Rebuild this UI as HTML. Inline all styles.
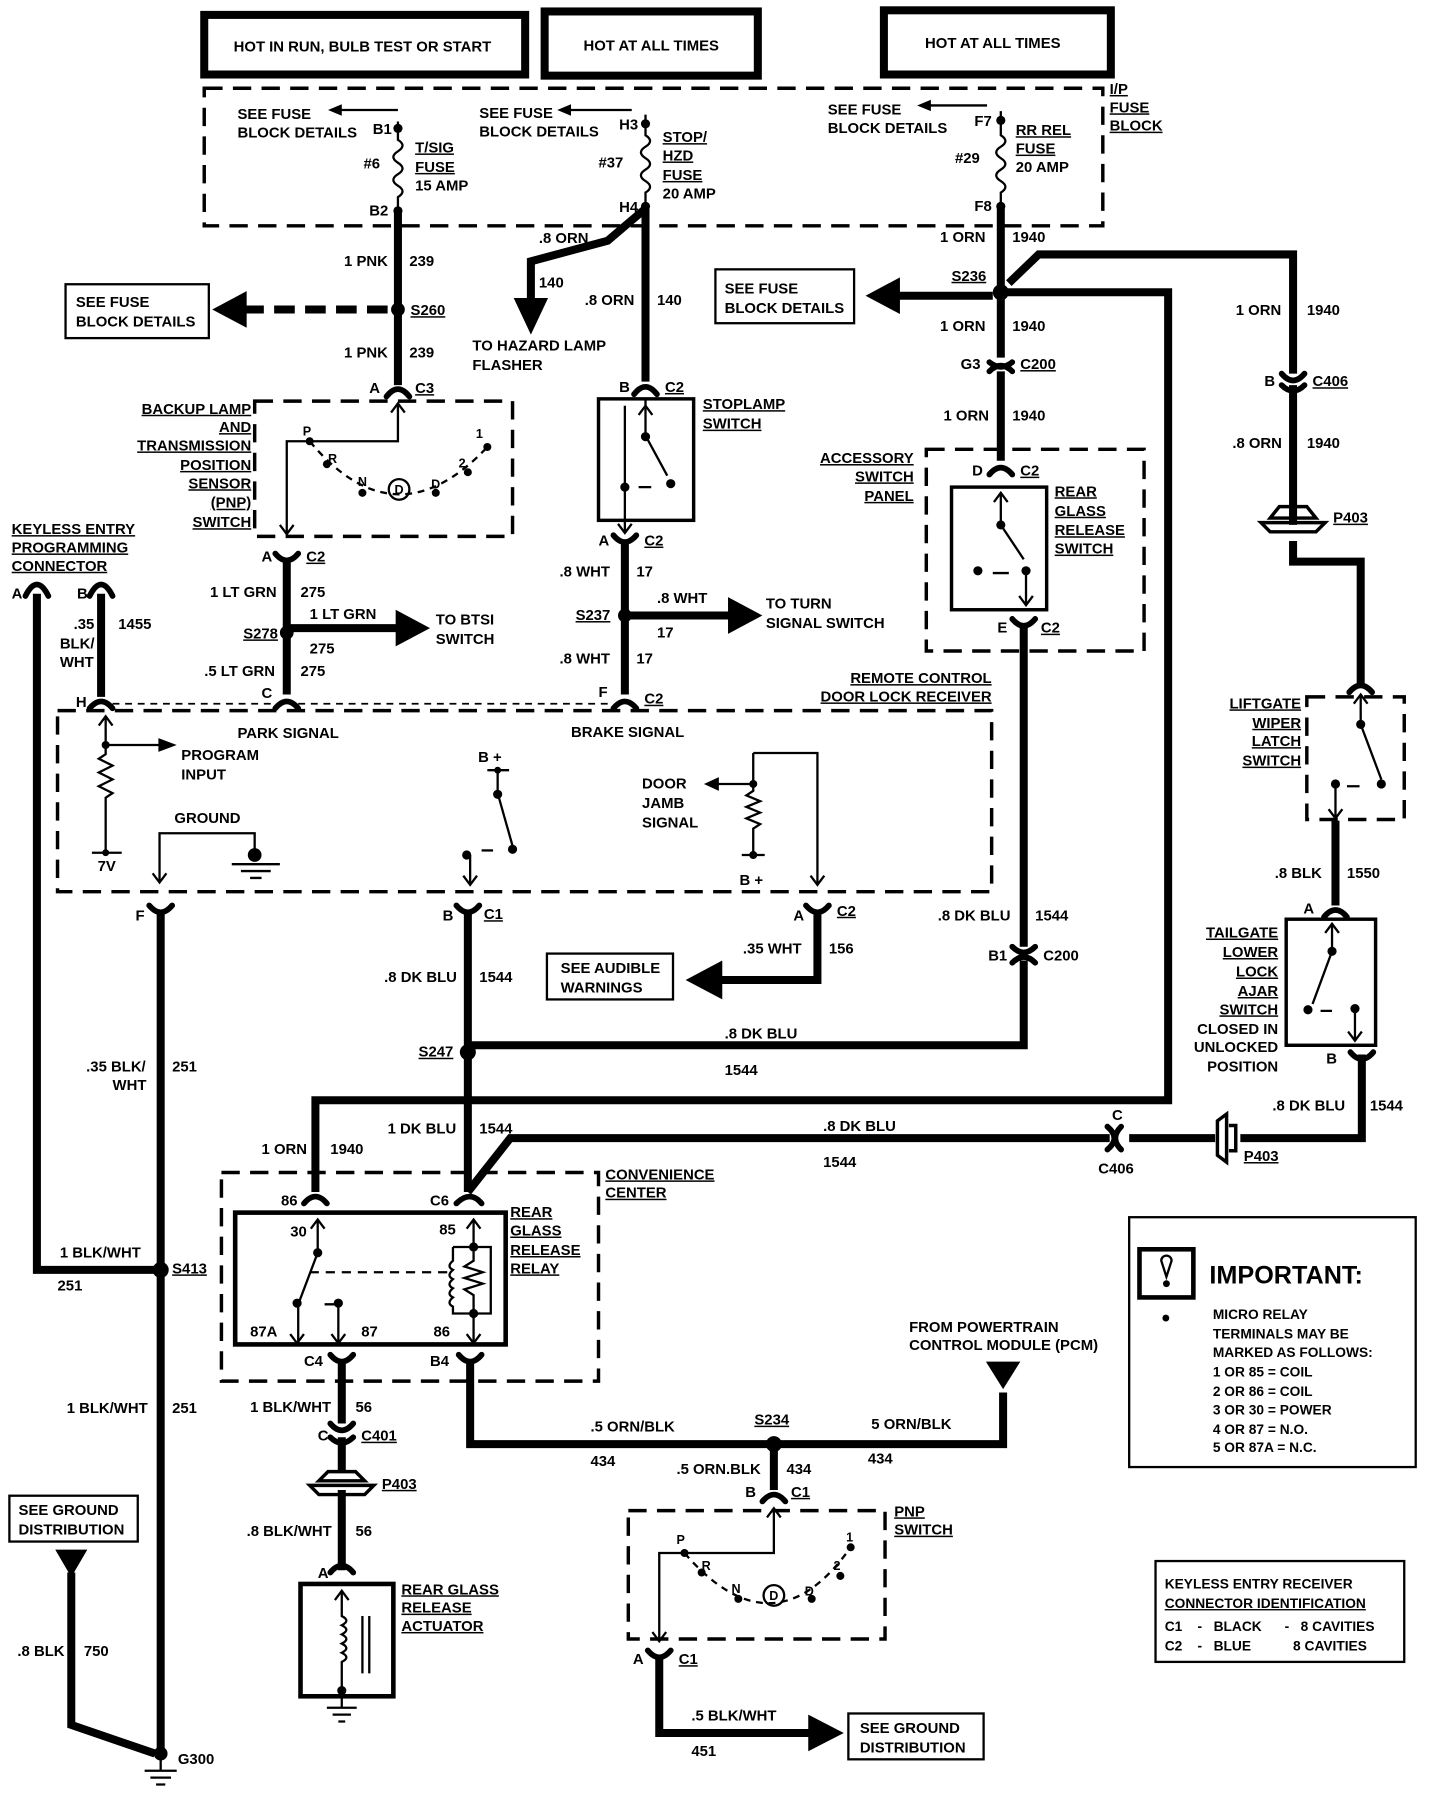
<!DOCTYPE html>
<html><head><meta charset="utf-8"><style>
html,body{margin:0;padding:0;background:#fff;}
svg{display:block;}
text{font-family:"Liberation Sans",sans-serif;font-weight:bold;font-size:13px;fill:#000;}
.u{text-decoration:underline;}
.s11{font-size:11px;}
.s12{font-size:12px;}
.s22{font-size:22px;}
.w{stroke:#000;stroke-width:7;fill:none;}
.t{stroke:#000;stroke-width:2;fill:none;}
.d{stroke:#000;stroke-width:3;fill:none;stroke-dasharray:16 9;}
.c{stroke:#000;stroke-width:5;fill:none;stroke-linecap:round;}
</style></head><body>
<svg width="1440" height="1796" viewBox="0 0 1256 1567" xmlns="http://www.w3.org/2000/svg">
<!-- header boxes -->
<rect x="178" y="13" width="280" height="52" fill="none" stroke="#000" stroke-width="7"/>
<text x="316" y="45" text-anchor="middle">HOT IN RUN, BULB TEST OR START</text>
<rect x="475" y="10" width="186" height="56" fill="none" stroke="#000" stroke-width="7"/>
<text x="568" y="44" text-anchor="middle">HOT AT ALL TIMES</text>
<rect x="771" y="9" width="198" height="56" fill="none" stroke="#000" stroke-width="7"/>
<text x="866" y="42" text-anchor="middle">HOT AT ALL TIMES</text>
<!-- fuse block -->
<rect x="178" y="77" width="784" height="120" class="d"/>
<text x="968" y="82" class="u">I/P</text><text x="968" y="98" class="u">FUSE</text><text x="968" y="114" class="u">BLOCK</text>
<!-- fuse 1 -->
<path class="t" d="M347,106 V122 q8,5 0,10 q-8,5 0,10 q8,5 0,10 q-8,5 0,10 q8,5 0,10 V184"/>
<circle cx="347" cy="112" r="4"/><circle cx="347" cy="184" r="4"/>
<path class="t" d="M347,96 H292"/><polygon points="286,96 298,91 298,101"/>
<text x="207" y="104">SEE FUSE</text><text x="207" y="120">BLOCK DETAILS</text>
<text x="325" y="117">B1</text><text x="317" y="147">#6</text><text x="322" y="188">B2</text>
<text x="362" y="133" class="u">T/SIG</text><text x="362" y="150" class="u">FUSE</text><text x="362" y="166">15 AMP</text>
<!-- fuse 2 -->
<path class="t" d="M563,100 V118 q8,5 0,10 q-8,5 0,10 q8,5 0,10 q-8,5 0,10 q8,5 0,10 V180"/>
<circle cx="563" cy="108" r="4"/><circle cx="563" cy="180" r="4"/>
<path class="t" d="M551,96 H492"/><polygon points="486,96 498,91 498,101"/>
<text x="418" y="103">SEE FUSE</text><text x="418" y="119">BLOCK DETAILS</text>
<text x="540" y="113">H3</text><text x="522" y="146">#37</text><text x="540" y="185">H4</text>
<text x="578" y="124" class="u">STOP/</text><text x="578" y="140" class="u">HZD</text><text x="578" y="157" class="u">FUSE</text><text x="578" y="173">20 AMP</text>
<!-- fuse 3 -->
<path class="t" d="M873,97 V118 q8,5 0,10 q-8,5 0,10 q8,5 0,10 q-8,5 0,10 q8,5 0,10 V180"/>
<circle cx="873" cy="105" r="4"/><circle cx="873" cy="180" r="4"/>
<path class="t" d="M861,92 H806"/><polygon points="800,92 812,87 812,97"/>
<text x="722" y="100">SEE FUSE</text><text x="722" y="116">BLOCK DETAILS</text>
<text x="850" y="110">F7</text><text x="833" y="142">#29</text><text x="850" y="184">F8</text>
<text x="886" y="118" class="u">RR REL</text><text x="886" y="134" class="u">FUSE</text><text x="886" y="150">20 AMP</text>
<!-- wire 1 -->
<path class="w" d="M347,184 V336"/>
<text x="300" y="232">1 PNK</text><text x="357" y="232">239</text>
<text x="300" y="312">1 PNK</text><text x="357" y="312">239</text>
<circle cx="347" cy="270" r="6"/><text x="358" y="275" class="u">S260</text>
<path d="M338,270 H212" stroke="#000" stroke-width="7" stroke-dasharray="18 9"/>
<polygon points="185,270 215,254 215,286"/>
<rect x="57" y="248" width="125" height="47" fill="none" stroke="#000" stroke-width="2"/>
<text x="66" y="268">SEE FUSE</text><text x="66" y="285">BLOCK DETAILS</text>
<path class="c" d="M337,346 Q347,333 357,346"/>
<text x="322" y="343">A</text><text x="362" y="343" class="u">C3</text>
<!-- top PNP -->
<rect x="222" y="350" width="225" height="118" class="d"/>
<g text-anchor="end"><text x="219" y="361" class="u">BACKUP LAMP</text><text x="219" y="377" class="u">AND</text><text x="219" y="393" class="u">TRANSMISSION</text><text x="219" y="410" class="u">POSITION</text><text x="219" y="426" class="u">SENSOR</text><text x="219" y="443" class="u">(PNP)</text><text x="219" y="460" class="u">SWITCH</text></g>
<path class="t" d="M347,352 V385 H250 V466"/><path class="t" d="M341,360 L347,352 L353,360"/><path class="t" d="M244,458 L250,466 L256,458"/>
<path d="M270,385 Q345,475 425,390" fill="none" stroke="#000" stroke-width="2" stroke-dasharray="6 5"/>
<circle cx="270" cy="385" r="3.5"/><circle cx="285" cy="405" r="3.5"/><circle cx="316" cy="430" r="3.5"/><circle cx="380" cy="430" r="3.5"/><circle cx="408" cy="412" r="3.5"/><circle cx="425" cy="390" r="3.5"/>
<circle cx="348" cy="427" r="9" fill="none" stroke="#000" stroke-width="2"/><text x="344" y="431" class="s11">D</text>
<text x="264" y="380" class="s11">P</text><text x="286" y="404" class="s11">R</text><text x="312" y="424" class="s11">N</text><text x="376" y="426" class="s11">D</text><text x="400" y="408" class="s11">2</text><text x="415" y="382" class="s11">1</text>
<path class="c" d="M240,483 Q250,495 260,483"/>
<text x="228" y="490">A</text><text x="267" y="490" class="u">C2</text>
<path class="w" d="M250,488 V606"/>
<text x="183" y="521">1 LT GRN</text><text x="262" y="521">275</text>
<circle cx="250" cy="552" r="6"/><text x="212" y="557" class="u">S278</text>
<path class="w" d="M250,548 H348"/><polygon points="375,548 345,532 345,564"/>
<text x="270" y="540">1 LT GRN</text><text x="270" y="570">275</text>
<text x="380" y="545">TO BTSI</text><text x="380" y="562">SWITCH</text>
<text x="178" y="590">.5 LT GRN</text><text x="262" y="590">275</text>
<path class="c" d="M240,618 Q250,606 260,618"/><text x="228" y="609">C</text>
<!-- keyless prog connector -->
<text x="10" y="466" class="u">KEYLESS ENTRY</text><text x="10" y="482" class="u">PROGRAMMING</text><text x="10" y="498" class="u">CONNECTOR</text>
<path class="w" d="M32,518 V1108 H140"/><path class="c" d="M22,520 Q32,500 42,520"/>
<path class="w" d="M88,518 V608"/><path class="c" d="M78,520 Q88,500 98,520"/>
<path class="c" d="M78,618 Q88,606 98,618"/>
<text x="10" y="522">A</text><text x="67" y="522">B</text>
<text x="64" y="549">.35</text><text x="103" y="549">1455</text><text x="52" y="566">BLK/</text><text x="52" y="582">WHT</text><text x="66" y="617">H</text>
<path d="M98,614 H240 M260,614 H535" stroke="#000" stroke-width="1.5" stroke-dasharray="6 5"/>
<!-- remote receiver -->
<rect x="50" y="620" width="815" height="158" class="d"/>
<text x="865" y="596" text-anchor="end" class="u">REMOTE CONTROL</text><text x="865" y="612" text-anchor="end" class="u">DOOR LOCK RECEIVER</text>
<text x="207" y="644">PARK SIGNAL</text><text x="498" y="643">BRAKE SIGNAL</text>
<path class="t" d="M92,625 V658 l-6,4 l12,6 l-12,6 l12,6 l-12,6 l12,6 l-6,4 V746"/><path class="t" d="M86,633 L92,625 L98,633"/>
<path class="t" d="M80,744 H106"/><circle cx="92" cy="744" r="3"/><text x="85" y="760">7V</text>
<circle cx="92" cy="650" r="3.5"/><path class="t" d="M92,650 H140"/><polygon points="154,650 138,644 138,656"/>
<text x="158" y="663">PROGRAM</text><text x="158" y="680">INPUT</text>
<text x="152" y="718">GROUND</text>
<path class="t" d="M139,770 V727 H222 V745"/><path class="t" d="M133,762 L139,770 L145,762"/>
<circle cx="222" cy="746" r="6"/><path class="t" d="M202,754 H244 M210,760 H236 M218,766 H228"/>
<text x="417" y="665">B +</text><path class="t" d="M410,772 V746 M425,672 H444 M434,672 V692 L447,738"/><circle cx="434" cy="672" r="3"/><circle cx="434" cy="693" r="4"/><circle cx="447" cy="741" r="4"/><circle cx="407" cy="746" r="4"/><path class="t" d="M420,742 H430"/>
<path class="t" d="M404,764 L410,772 L416,764"/>
<text x="560" y="688">DOOR</text><text x="560" y="705">JAMB</text><text x="560" y="722">SIGNAL</text>
<path class="t" d="M657,657 H713 V772 M657,657 V690 l-6,4 l12,5 l-12,5 l12,5 l-12,5 l12,5 l-6,4 V746 M647,746 H667"/><path class="t" d="M707,764 L713,772 L719,764"/>
<circle cx="657" cy="684" r="3.5"/><circle cx="657" cy="746" r="3.5"/><path class="t" d="M657,684 H625"/><polygon points="614,684 627,678 627,690"/>
<text x="645" y="772">B +</text>
<!-- bottom receiver connectors -->
<path class="c" d="M130,790 Q140,802 150,790"/><text x="118" y="803">F</text>
<path class="c" d="M398,790 Q408,802 418,790"/><text x="386" y="803">B</text><text x="422" y="802" class="u">C1</text>
<path class="c" d="M703,790 Q713,802 723,790"/><text x="692" y="803">A</text><text x="730" y="799" class="u">C2</text>
<path class="w" d="M140,796 V1530"/>
<path class="w" d="M408,796 V1040"/>
<path class="w" d="M713,797 V855 H628"/><polygon points="598,855 630,838 630,872"/>
<rect x="477" y="832" width="110" height="40" fill="none" stroke="#000" stroke-width="2"/>
<text x="489" y="849">SEE AUDIBLE</text><text x="489" y="866">WARNINGS</text>
<text x="648" y="832">.35 WHT</text><text x="723" y="832">156</text>
<text x="335" y="857">.8 DK BLU</text><text x="418" y="857">1544</text>
<!-- stoplamp -->
<path class="w" d="M563,180 V333"/>
<path class="w" d="M563,182 L530,210 L463,228 V262"/><polygon points="463,292 448,260 478,260"/>
<text x="470" y="212">.8 ORN</text><text x="470" y="251">140</text>
<text x="510" y="266">.8 ORN</text><text x="573" y="266">140</text>
<text x="412" y="306">TO HAZARD LAMP</text><text x="412" y="323">FLASHER</text>
<path class="c" d="M553,344 Q563,331 573,344"/><text x="540" y="342">B</text><text x="580" y="342" class="u">C2</text>
<rect x="522" y="348" width="83" height="106" fill="none" stroke="#000" stroke-width="3"/>
<text x="613" y="357" class="u">STOPLAMP</text><text x="613" y="374" class="u">SWITCH</text>
<path class="t" d="M545,354 V465 M563,348 V380 L582,415"/><path class="t" d="M557,362 L563,354 L569,362"/><circle cx="563" cy="381" r="4"/><circle cx="585" cy="422" r="4"/><circle cx="545" cy="425" r="4"/><path class="t" d="M557,425 H568 M539,457 L545,465 L551,457"/>
<path class="c" d="M535,467 Q545,479 555,467"/><text x="522" y="476">A</text><text x="562" y="476" class="u">C2</text>
<path class="w" d="M545,472 V606"/>
<text x="488" y="503">.8 WHT</text><text x="555" y="503">17</text>
<circle cx="545" cy="537" r="6"/><text x="502" y="541" class="u">S237</text>
<path class="w" d="M545,537 H638"/><polygon points="665,537 635,521 635,553"/>
<text x="573" y="526">.8 WHT</text><text x="573" y="556">17</text>
<text x="668" y="531">TO TURN</text><text x="668" y="548">SIGNAL SWITCH</text>
<text x="488" y="579">.8 WHT</text><text x="555" y="579">17</text>
<path class="c" d="M535,618 Q545,606 555,618"/><text x="522" y="608">F</text><text x="562" y="614" class="u">C2</text>
<!-- accessory -->
<path class="w" d="M873,180 V312 M873,324 V402"/>
<path class="w" d="M880,247 L906,222 H1128 V326 M1128,336 V458 M1128,472 V490 H1187 V598"/>
<path class="w" d="M879,255 H1019 V960 H275 V1040"/>
<circle cx="873" cy="255" r="7"/><text x="830" y="245" class="u">S236</text>
<path class="w" d="M866,258 H782"/><polygon points="755,258 785,242 785,274"/>
<rect x="624" y="235" width="121" height="47" fill="none" stroke="#000" stroke-width="2"/>
<text x="632" y="256">SEE FUSE</text><text x="632" y="273">BLOCK DETAILS</text>
<text x="820" y="211">1 ORN</text><text x="883" y="211">1940</text>
<text x="820" y="289">1 ORN</text><text x="883" y="289">1940</text>
<path class="c" d="M863,316 Q873,324 883,316 M863,324 Q873,314 883,324"/><text x="838" y="322">G3</text><text x="890" y="322" class="u">C200</text>
<text x="823" y="367">1 ORN</text><text x="883" y="367">1940</text>
<rect x="808" y="392" width="190" height="176" class="d"/>
<text x="797" y="404" text-anchor="end" class="u">ACCESSORY</text><text x="797" y="420" text-anchor="end" class="u">SWITCH</text><text x="797" y="437" text-anchor="end" class="u">PANEL</text>
<path class="c" d="M863,414 Q873,402 883,414"/><text x="848" y="415">D</text><text x="890" y="415" class="u">C2</text>
<rect x="830" y="425" width="83" height="107" fill="none" stroke="#000" stroke-width="3"/>
<path class="t" d="M873,430 V458 L893,488 M895,500 V528 M867,438 L873,430 L879,438 M889,520 L895,528 L901,520 M866,500 H880"/><circle cx="873" cy="458" r="4"/><circle cx="853" cy="498" r="4"/><circle cx="895" cy="498" r="4"/>
<text x="920" y="433" class="u">REAR</text><text x="920" y="450" class="u">GLASS</text><text x="920" y="467" class="u">RELEASE</text><text x="920" y="483" class="u">SWITCH</text>
<path class="c" d="M883,540 Q893,552 903,540"/><text x="870" y="552">E</text><text x="908" y="552" class="u">C2</text>
<path class="w" d="M893,546 V826 M893,838 V912 H408"/>
<text x="818" y="803">.8 DK BLU</text><text x="903" y="803">1544</text>
<path class="c" d="M883,826 Q893,836 903,826 M883,840 Q893,830 903,840"/><text x="862" y="838">B1</text><text x="910" y="838">C200</text>
<circle cx="408" cy="918" r="7"/><text x="365" y="922" class="u">S247</text>
<text x="632" y="906">.8 DK BLU</text><text x="632" y="938">1544</text>
<text x="75" y="935">.35 BLK/</text><text x="150" y="935">251</text><text x="98" y="951">WHT</text>
<text x="228" y="1007">1 ORN</text><text x="288" y="1007">1940</text>
<text x="338" y="989">1 DK BLU</text><text x="418" y="989">1544</text>
<path class="w" d="M408,1040 L445,993 H968 M985,993 H1060 M1082,993 H1188 V920"/>
<path class="c" d="M966,983 Q978,993 966,1003 M978,983 Q968,993 978,1003"/>
<text x="970" y="977">C</text><text x="958" y="1024">C406</text>
<path d="M1062,978 L1070,972 V1014 L1062,1008 Z M1072,982 H1078 V1004 H1072" fill="none" stroke="#000" stroke-width="3"/>
<text x="1085" y="1013" class="u">P403</text>
<text x="718" y="987">.8 DK BLU</text><text x="718" y="1018">1544</text>
<!-- right column -->
<text x="1078" y="275">1 ORN</text><text x="1140" y="275">1940</text>
<path class="c" d="M1118,326 Q1128,338 1138,326 M1118,336 Q1128,346 1138,336"/><text x="1103" y="337">B</text><text x="1145" y="337" class="u">C406</text>
<text x="1075" y="391">.8 ORN</text><text x="1140" y="391">1940</text>
<path d="M1108,452 L1116,442 H1140 L1148,452 Z M1100,456 H1156 L1148,464 H1108 Z" fill="none" stroke="#000" stroke-width="3"/>
<text x="1163" y="456" class="u">P403</text>
<rect x="1140" y="608" width="85" height="107" class="d"/>
<g text-anchor="end"><text x="1135" y="618" class="u">LIFTGATE</text><text x="1135" y="635" class="u">WIPER</text><text x="1135" y="651" class="u">LATCH</text><text x="1135" y="668" class="u">SWITCH</text></g>
<path class="c" d="M1177,604 Q1187,592 1197,604"/>
<path class="t" d="M1187,606 V632 L1205,680 M1165,686 V714 M1181,614 L1187,606 L1193,614 M1159,706 L1165,714 L1171,706 M1175,686 H1186"/><circle cx="1187" cy="632" r="4"/><circle cx="1205" cy="684" r="4"/><circle cx="1165" cy="684" r="4"/>
<path class="w" d="M1165,716 V790"/>
<text x="1112" y="766">.8 BLK</text><text x="1175" y="766">1550</text>
<text x="1137" y="797">A</text><path class="c" d="M1155,800 Q1165,788 1175,800"/>
<rect x="1122" y="802" width="78" height="110" fill="none" stroke="#000" stroke-width="3"/>
<path class="t" d="M1162,806 V830 L1145,876 M1182,880 V908 M1156,814 L1162,806 L1168,814 M1176,900 L1182,908 L1188,900 M1152,882 H1162"/><circle cx="1162" cy="830" r="4"/><circle cx="1141" cy="881" r="4"/><circle cx="1182" cy="880" r="4"/>
<g text-anchor="end"><text x="1115" y="818" class="u">TAILGATE</text><text x="1115" y="835" class="u">LOWER</text><text x="1115" y="852" class="u">LOCK</text><text x="1115" y="869" class="u">AJAR</text><text x="1115" y="885" class="u">SWITCH</text><text x="1115" y="902">CLOSED IN</text><text x="1115" y="918">UNLOCKED</text><text x="1115" y="935">POSITION</text></g>
<text x="1157" y="928">B</text><path class="c" d="M1178,918 Q1188,930 1198,918"/>
<text x="1110" y="969">.8 DK BLU</text><text x="1195" y="969">1544</text>
<!-- convenience center -->
<rect x="193" y="1023" width="329" height="182" class="d"/>
<text x="528" y="1029" class="u">CONVENIENCE</text><text x="528" y="1045" class="u">CENTER</text>
<path class="c" d="M265,1050 Q275,1038 285,1050 M398,1050 Q410,1038 420,1050"/>
<text x="245" y="1052">86</text><text x="375" y="1052">C6</text>
<rect x="205" y="1058" width="236" height="115" fill="none" stroke="#000" stroke-width="4"/>
<path class="t" d="M277,1064 V1093 L260,1138 V1172 M271,1072 L277,1064 L283,1072 M295,1139 V1172 M289,1164 L295,1172 L301,1164 M253,1164 L259,1172 L265,1164 M283,1138 H292"/>
<path class="t" d="M270,1110 H395" stroke-dasharray="8 6"/>
<circle cx="277" cy="1093" r="4"/><circle cx="259" cy="1137" r="4"/><circle cx="295" cy="1137" r="4"/>
<path class="t" d="M413,1064 V1088 M407,1072 L413,1064 L419,1072 M395,1088 H428 V1146 H395 V1140 q-6,-3 0,-8 q-6,-3 0,-8 q-6,-3 0,-8 q-6,-3 0,-8 q-6,-3 0,-8 V1088 M413,1146 V1172 M407,1164 L413,1172 L419,1164 M413,1092 V1100 l-8,5 l16,5 l-16,5 l16,5 l-16,5 l8,5 V1146"/>
<circle cx="413" cy="1088" r="4"/><circle cx="413" cy="1146" r="4"/>
<text x="253" y="1079">30</text><text x="383" y="1077">85</text><text x="218" y="1166">87A</text><text x="315" y="1166">87</text><text x="378" y="1166">86</text>
<text x="445" y="1062" class="u">REAR</text><text x="445" y="1078" class="u">GLASS</text><text x="445" y="1095" class="u">RELEASE</text><text x="445" y="1111" class="u">RELAY</text>
<path class="c" d="M288,1182 Q298,1194 308,1182 M400,1182 Q410,1194 420,1182"/>
<text x="265" y="1192">C4</text><text x="375" y="1192">B4</text>
<path class="w" d="M298,1188 V1242 M298,1254 V1284 M298,1300 V1370"/>
<text x="218" y="1232">1 BLK/WHT</text><text x="310" y="1232">56</text>
<path class="c" d="M288,1242 Q298,1254 308,1242 M288,1254 Q298,1264 308,1254"/><text x="277" y="1257">C</text><text x="315" y="1257" class="u">C401</text>
<path d="M278,1292 L286,1284 H310 L318,1292 Z M270,1296 H326 L318,1304 H278 Z" fill="none" stroke="#000" stroke-width="3"/><text x="333" y="1299" class="u">P403</text>
<text x="215" y="1340">.8 BLK/WHT</text><text x="310" y="1340">56</text>
<text x="277" y="1377">A</text><path class="c" d="M288,1372 Q298,1360 308,1372"/>
<rect x="262" y="1382" width="81" height="98" fill="none" stroke="#000" stroke-width="4"/>
<path class="t" d="M298,1388 V1410 q8,4 0,8 q8,4 0,8 q8,4 0,8 q8,4 0,8 q8,4 0,8 V1475 M292,1396 L298,1388 L304,1396 M316,1410 V1460 M322,1410 V1460 M298,1475 V1490 M285,1490 H311 M290,1496 H306 M295,1502 H301"/>
<circle cx="298" cy="1475" r="4"/>
<text x="350" y="1391" class="u">REAR GLASS</text><text x="350" y="1407" class="u">RELEASE</text><text x="350" y="1423" class="u">ACTUATOR</text>
<!-- B4 wire -->
<path class="w" d="M410,1188 V1260 H875 V1215"/><polygon points="875,1212 860,1188 890,1188"/>
<text x="793" y="1162">FROM POWERTRAIN</text><text x="793" y="1178">CONTROL MODULE (PCM)</text>
<text x="515" y="1249">.5 ORN/BLK</text><text x="515" y="1279">434</text>
<text x="658" y="1243" class="u">S234</text><circle cx="675" cy="1260" r="7"/>
<text x="760" y="1247">5 ORN/BLK</text><text x="757" y="1277">434</text>
<path class="w" d="M675,1260 V1300"/>
<text x="590" y="1286">.5 ORN.BLK</text><text x="686" y="1286">434</text>
<path class="c" d="M665,1310 Q675,1298 685,1310"/><text x="650" y="1306">B</text><text x="690" y="1306" class="u">C1</text>
<rect x="548" y="1318" width="224" height="112" class="d"/>
<text x="780" y="1323" class="u">PNP</text><text x="780" y="1339" class="u">SWITCH</text>
<path class="t" d="M675,1316 V1355 H575 V1432 M669,1324 L675,1316 L681,1324 M569,1424 L575,1432 L581,1424"/>
<path d="M597,1355 Q675,1445 742,1350" fill="none" stroke="#000" stroke-width="2" stroke-dasharray="6 5"/>
<circle cx="597" cy="1355" r="3.5"/><circle cx="612" cy="1372" r="3.5"/><circle cx="644" cy="1395" r="3.5"/><circle cx="708" cy="1395" r="3.5"/><circle cx="733" cy="1375" r="3.5"/><circle cx="742" cy="1350" r="3.5"/>
<circle cx="675" cy="1392" r="9" fill="none" stroke="#000" stroke-width="2"/><text x="671" y="1396" class="s11">D</text>
<text x="590" y="1347" class="s11">P</text><text x="612" y="1370" class="s11">R</text><text x="638" y="1390" class="s11">N</text><text x="702" y="1392" class="s11">D</text><text x="727" y="1370" class="s11">2</text><text x="738" y="1345" class="s11">1</text>
<path class="c" d="M565,1440 Q575,1452 585,1440"/><text x="552" y="1452">A</text><text x="592" y="1452" class="u">C1</text>
<path class="w" d="M575,1446 V1512 H708"/><polygon points="736,1512 705,1496 705,1528"/>
<text x="603" y="1501">.5 BLK/WHT</text><text x="603" y="1532">451</text>
<rect x="740" y="1495" width="118" height="40" fill="none" stroke="#000" stroke-width="2"/>
<text x="750" y="1512">SEE GROUND</text><text x="750" y="1529">DISTRIBUTION</text>
<!-- left bottom -->
<text x="52" y="1097">1 BLK/WHT</text><circle cx="140" cy="1108" r="7"/><text x="150" y="1111" class="u">S413</text><text x="50" y="1126">251</text>
<text x="58" y="1233">1 BLK/WHT</text><text x="150" y="1233">251</text>
<rect x="8" y="1305" width="112" height="40" fill="none" stroke="#000" stroke-width="2"/>
<text x="16" y="1322">SEE GROUND</text><text x="16" y="1339">DISTRIBUTION</text>
<polygon points="62,1376 48,1352 76,1352"/>
<path class="w" d="M62,1372 V1505 L135,1530"/>
<text x="15" y="1445">.8 BLK</text><text x="73" y="1445">750</text>
<circle cx="140" cy="1530" r="6"/><path class="t" d="M140,1530 V1545 M126,1545 H154 M131,1551 H149 M136,1557 H144"/>
<text x="155" y="1539">G300</text>
<!-- important -->
<rect x="985" y="1062" width="250" height="218" fill="none" stroke="#000" stroke-width="2"/>
<rect x="994" y="1090" width="47" height="42" fill="none" stroke="#000" stroke-width="4"/>
<path d="M1013,1100 a4.5,4.5 0 1 1 9,0 L1017.5,1114 Z" fill="none" stroke="#000" stroke-width="2"/><circle cx="1017.5" cy="1120" r="3"/><circle cx="1017" cy="1150" r="3"/>
<text x="1055" y="1120" class="s22">IMPORTANT:</text>
<text x="1058" y="1151" class="s12">MICRO RELAY</text><text x="1058" y="1168" class="s12">TERMINALS MAY BE</text><text x="1058" y="1184" class="s12">MARKED AS FOLLOWS:</text>
<text x="1058" y="1201" class="s12">1 OR 85  =  COIL</text><text x="1058" y="1218" class="s12">2 OR 86  =  COIL</text><text x="1058" y="1234" class="s12">3 OR 30  =  POWER</text><text x="1058" y="1251" class="s12">4 OR 87  =  N.O.</text><text x="1058" y="1267" class="s12">5 OR 87A  =  N.C.</text>
<!-- keyless id -->
<rect x="1008" y="1362" width="217" height="88" fill="none" stroke="#000" stroke-width="2"/>
<text x="1016" y="1386" class="s12">KEYLESS ENTRY RECEIVER</text><text x="1016" y="1403" class="s12 u">CONNECTOR IDENTIFICATION</text>
<text x="1016" y="1423" class="s12" xml:space="preserve">C1    -   BLACK      -   8 CAVITIES</text>
<text x="1016" y="1440" class="s12" xml:space="preserve">C2    -   BLUE           8 CAVITIES</text>
</svg>
</body></html>
